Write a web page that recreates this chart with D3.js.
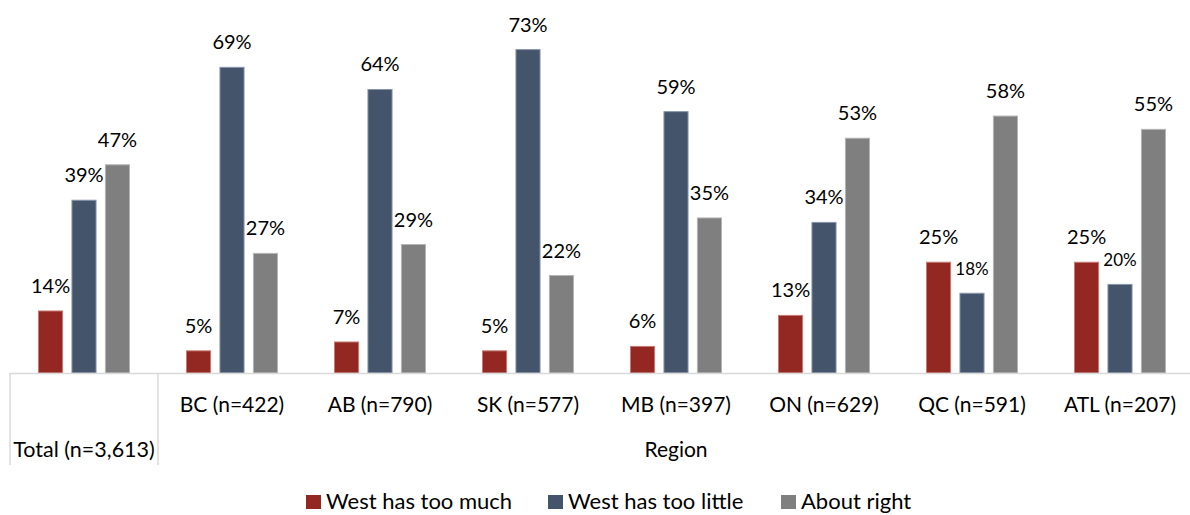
<!DOCTYPE html>
<html>
<head>
<meta charset="utf-8">
<script src="https://cdn.jsdelivr.net/npm/d3@7"></script>
<style>
  html, body { margin: 0; padding: 0; background: #ffffff; }
  svg text { font-family: Lato, "Open Sans", sans-serif; fill: #000; }
</style>
</head>
<body>
<svg id="chart" width="1190" height="515"></svg>
<script>
// Groups along the x axis
const categories = ["Total (n=3,613)", "BC (n=422)", "AB (n=790)", "SK (n=577)", "MB (n=397)", "ON (n=629)", "QC (n=591)", "ATL (n=207)"];
const seriesNames = ["West has too much", "West has too little", "About right"];
const tooMuch   = [14, 5, 7, 5, 6, 13, 25, 25];
const tooLittle = [39, 69, 64, 73, 59, 34, 18, 20];
const aboutRight = [47, 27, 29, 22, 35, 53, 58, 55];
const colors = ["#922821", "#44546a", "#7f7f7f"];
const strokes = ["#c77a73", "#8896aa", "#b5b5b5"];
const groupTitle = "Region";

const series = [tooMuch, tooLittle, aboutRight];
const svg = d3.select("#chart");

const baseY = 373;
const x0 = d3.scaleBand().domain(categories).range([10, 1194]).paddingInner(0).paddingOuter(0);
const x1 = d3.scaleBand().domain(seriesNames).range([0, 92]).paddingInner(0.25);
const groupPad = (x0.bandwidth() - 92) / 2;
const y = d3.scaleLinear().domain([0, 80]).range([baseY, baseY - 80 * 4.43]);

// Bars and their value labels
const groups = svg.append("g").selectAll("g")
  .data(categories)
  .join("g")
  .attr("transform", d => `translate(${x0(d) + groupPad},0)`);

groups.each(function(cat, ci) {
  const g = d3.select(this);
  seriesNames.forEach((s, si) => {
    const v = series[si][ci];
    g.append("rect")
      .attr("x", x1(s) + 0.5)
      .attr("y", y(v))
      .attr("width", x1.bandwidth() - 1)
      .attr("height", baseY - y(v))
      .attr("fill", colors[si])
      .attr("stroke", strokes[si])
      .attr("stroke-width", 1);
    const small = (ci >= 6 && si === 1);
    g.append("text")
      .attr("x", x1(s) + x1.bandwidth() / 2)
      .attr("y", y(v) - 18)
      .attr("text-anchor", "middle")
      .attr("font-size", small ? 17 : 20)
      .text(v + "%");
  });
});

// Category axis with group dividers
svg.append("line")
  .attr("x1", 10).attr("x2", 1190)
  .attr("y1", baseY + 0.5).attr("y2", baseY + 0.5)
  .attr("stroke", "#d9d9d9").attr("stroke-width", 1.5);

[x0(categories[0]), x0(categories[1])].forEach(xv => {
  svg.append("line")
    .attr("x1", xv).attr("x2", xv)
    .attr("y1", baseY).attr("y2", 465)
    .attr("stroke", "#d9d9d9").attr("stroke-width", 1.5);
});

svg.append("g").selectAll("text")
  .data(categories)
  .join("text")
  .attr("x", d => x0(d) + x0.bandwidth() / 2)
  .attr("y", (d, i) => i === 0 ? 457 : 412)
  .attr("text-anchor", "middle")
  .attr("font-size", (d, i) => i === 0 ? 21.5 : 21)
  .text(d => d);

svg.append("text")
  .attr("x", (x0(categories[1]) + 1194) / 2)
  .attr("y", 457)
  .attr("text-anchor", "middle")
  .attr("font-size", 21)
  .text(groupTitle);

// Legend
const legendX = [306, 548, 781];
const legend = svg.append("g").selectAll("g")
  .data(seriesNames)
  .join("g")
  .attr("transform", (d, i) => `translate(${legendX[i]},495)`);
legend.append("rect")
  .attr("width", 15).attr("height", 14)
  .attr("fill", (d, i) => colors[i]);
legend.append("text")
  .attr("x", 20).attr("y", 14)
  .attr("font-size", 22)
  .text(d => d);
</script>
</body>
</html>
